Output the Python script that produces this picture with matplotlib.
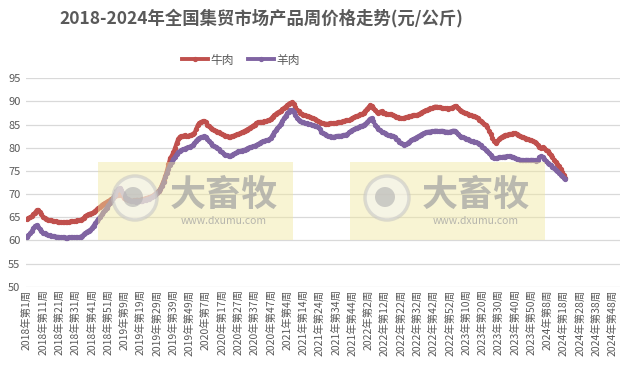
# -*- coding: utf-8 -*-
"""
2018-2024 weekly beef / mutton market prices (yuan/kg)
"""

import numpy as np
import matplotlib.pyplot as plt
from matplotlib.patches import Rectangle, Circle

plt.rcParams['font.family'] = ['Noto Sans CJK SC', 'DejaVu Sans']

### categories: weeks per year
years      = [2018, 2019, 2020, 2021, 2022, 2023, 2024]
year_weeks = [52, 52, 53, 52, 52, 52, 52]

### data (yuan/kg), one list per year
beef_2018 = [64.6, 64.8, 65.0, 65.2, 65.6, 66.0, 66.5, 66.6, 66.2, 65.6, 65.1, 64.8, 64.6, 64.5, 64.4, 64.3,
             64.2, 64.1, 64.1, 64.0, 64.0, 64.0, 63.9, 63.9, 64.0, 64.0, 64.0, 64.1, 64.1, 64.2, 64.2, 64.3,
             64.3, 64.4, 64.6, 64.9, 65.2, 65.5, 65.7, 65.8, 65.9, 66.1, 66.4, 66.7, 67.0, 67.3, 67.6, 67.8,
             68.1, 68.3, 68.5, 68.7]
beef_2019 = [69.0, 69.2, 69.5, 69.7, 69.9, 70.0, 69.8, 69.5, 69.2, 69.0, 68.8, 68.7, 68.6, 68.6, 68.7, 68.7,
             68.8, 68.7, 68.8, 68.9, 69.0, 69.1, 69.2, 69.3, 69.4, 69.6, 69.8, 70.1, 70.4, 70.7, 71.2, 72.0,
             72.9, 73.8, 75.0, 76.4, 77.7, 78.3, 79.0, 79.9, 81.0, 81.9, 82.4, 82.5, 82.6, 82.7, 82.6, 82.5,
             82.7, 82.8, 83.0, 83.2]
beef_2020 = [84.0, 84.9, 85.3, 85.6, 85.7, 85.8, 85.6, 85.0, 84.6, 84.2, 84.0, 83.8, 83.6, 83.5, 83.3, 83.1,
             82.9, 82.7, 82.6, 82.5, 82.4, 82.4, 82.5, 82.6, 82.7, 82.9, 83.0, 83.1, 83.3, 83.5, 83.7, 83.9,
             84.1, 84.3, 84.5, 84.8, 85.0, 85.3, 85.5, 85.6, 85.6, 85.6, 85.7, 85.8, 85.9, 86.0, 86.3, 86.7,
             87.0, 87.3, 87.6, 87.8, 88.0]
beef_2021 = [88.3, 88.6, 88.9, 89.2, 89.5, 89.7, 89.8, 89.4, 88.8, 88.2, 87.9, 87.6, 87.3, 87.1, 87.0, 86.9,
             86.8, 86.7, 86.5, 86.4, 86.2, 86.0, 85.8, 85.6, 85.4, 85.3, 85.2, 85.2, 85.2, 85.3, 85.3, 85.3,
             85.3, 85.4, 85.5, 85.5, 85.6, 85.7, 85.8, 85.9, 86.0, 86.0, 86.2, 86.4, 86.6, 86.8, 86.9, 87.0,
             87.2, 87.3, 87.6, 88.0]
beef_2022 = [88.4, 88.8, 89.2, 89.0, 88.6, 88.2, 87.8, 87.6, 87.8, 87.9, 87.6, 87.4, 87.3, 87.2, 87.3, 87.2,
             87.0, 86.8, 86.7, 86.6, 86.5, 86.4, 86.4, 86.5, 86.6, 86.7, 86.8, 86.9, 87.0, 87.1, 87.1, 87.1,
             87.3, 87.5, 87.7, 87.9, 88.1, 88.2, 88.4, 88.5, 88.6, 88.8, 88.9, 88.9, 88.8, 88.7, 88.6, 88.6,
             88.5, 88.5, 88.4, 88.5]
beef_2023 = [88.6, 88.8, 89.0, 89.0, 88.6, 88.2, 88.0, 87.8, 87.6, 87.4, 87.3, 87.1, 87.0, 86.9, 86.8, 86.7,
             86.4, 86.1, 85.8, 85.5, 85.2, 84.9, 84.4, 83.7, 83.0, 82.2, 81.5, 81.0, 81.4, 81.8, 82.1, 82.4,
             82.6, 82.8, 82.8, 82.9, 83.0, 83.0, 83.1, 83.1, 83.0, 82.8, 82.6, 82.4, 82.3, 82.1, 82.0, 81.9,
             81.7, 81.6, 81.4, 81.2]
beef_2024 = [81.0, 80.6, 80.2, 80.0, 80.1, 79.9, 79.6, 79.3, 78.9, 78.4, 77.9, 77.4, 77.0, 76.5, 76.0, 75.4,
             74.8, 74.2, 73.5]

mutton_2018 = [60.7, 61.1, 61.5, 62.0, 62.6, 63.1, 63.3, 62.9, 62.4, 62.0, 61.7, 61.5, 61.3, 61.2, 61.1, 61.0,
               60.9, 60.9, 60.8, 60.8, 60.7, 60.7, 60.7, 60.7, 60.6, 60.6, 60.7, 60.7, 60.7, 60.7, 60.7, 60.7,
               60.7, 60.8, 61.0, 61.3, 61.6, 61.9, 62.1, 62.3, 62.7, 63.2, 63.7, 64.2, 64.7, 65.1, 65.6, 66.1,
               66.6, 67.1, 67.6, 68.1]
mutton_2019 = [68.6, 69.2, 69.9, 70.6, 71.1, 71.3, 70.9, 70.3, 69.7, 69.2, 68.9, 68.7, 68.5, 68.4, 68.4, 68.3,
               68.4, 68.4, 68.4, 68.5, 68.7, 68.8, 68.9, 69.0, 69.1, 69.3, 69.6, 69.9, 70.2, 70.6, 71.0, 71.8,
               72.7, 73.6, 74.6, 75.5, 76.3, 76.9, 77.5, 78.1, 78.6, 79.0, 79.3, 79.5, 79.7, 79.8, 80.0, 80.1,
               80.2, 80.4, 80.6, 81.0]
mutton_2020 = [81.5, 81.9, 82.1, 82.3, 82.4, 82.5, 82.4, 81.9, 81.4, 81.0, 80.6, 80.3, 80.1, 79.9, 79.7, 79.3,
               79.0, 78.7, 78.5, 78.4, 78.3, 78.3, 78.4, 78.6, 78.8, 79.0, 79.2, 79.3, 79.4, 79.5, 79.6, 79.8,
               80.0, 80.1, 80.2, 80.3, 80.4, 80.6, 80.8, 81.0, 81.2, 81.4, 81.5, 81.6, 81.7, 81.8, 82.2, 82.8,
               83.3, 83.8, 84.2, 84.6, 85.2]
mutton_2021 = [85.8, 86.4, 86.9, 87.4, 87.8, 88.1, 88.2, 87.7, 87.0, 86.4, 86.0, 85.8, 85.6, 85.5, 85.4, 85.3,
               85.2, 85.1, 85.0, 84.9, 84.8, 84.7, 84.4, 84.0, 83.5, 83.1, 82.9, 82.7, 82.6, 82.5, 82.4, 82.4,
               82.4, 82.5, 82.6, 82.6, 82.6, 82.7, 82.8, 82.8, 83.0, 83.3, 83.6, 83.8, 84.0, 84.2, 84.3, 84.5,
               84.6, 84.8, 84.9, 85.2]
mutton_2022 = [85.5, 85.9, 86.3, 86.4, 85.7, 85.0, 84.5, 84.1, 83.8, 83.5, 83.3, 83.1, 82.9, 82.8, 82.7, 82.6,
               82.6, 82.3, 82.0, 81.6, 81.3, 81.0, 80.8, 80.7, 80.8, 81.0, 81.3, 81.6, 81.8, 82.0, 82.2, 82.4,
               82.6, 82.8, 83.0, 83.2, 83.3, 83.4, 83.5, 83.5, 83.6, 83.6, 83.7, 83.7, 83.6, 83.6, 83.7, 83.6,
               83.5, 83.5, 83.4, 83.5]
mutton_2023 = [83.6, 83.7, 83.7, 83.4, 83.0, 82.6, 82.4, 82.3, 82.1, 81.9, 81.8, 81.6, 81.5, 81.4, 81.3, 81.2,
               81.0, 80.8, 80.5, 80.2, 79.9, 79.6, 79.2, 78.8, 78.4, 78.0, 77.8, 77.7, 77.8, 77.9, 78.0, 78.0,
               78.1, 78.1, 78.2, 78.2, 78.2, 78.1, 78.0, 77.8, 77.6, 77.5, 77.4, 77.4, 77.3, 77.3, 77.4, 77.4,
               77.3, 77.4, 77.4, 77.3]
mutton_2024 = [77.2, 77.4, 78.0, 78.2, 78.0, 77.6, 77.2, 76.8, 76.5, 76.2, 75.9, 75.6, 75.3, 75.0, 74.6, 74.2,
               73.8, 73.5, 73.3]

beef   = beef_2018 + beef_2019 + beef_2020 + beef_2021 + beef_2022 + beef_2023 + beef_2024
mutton = mutton_2018 + mutton_2019 + mutton_2020 + mutton_2021 + mutton_2022 + mutton_2023 + mutton_2024

### category labels
cats = []
for y, nw in zip(years, year_weeks):
    for w in range(1, nw + 1):
        cats.append('%d年第%d周' % (y, w))
x_all = np.arange(len(cats))
x_dat = np.arange(len(beef))

### plot
c_beef   = '#C0504D'
c_mutton = '#8064A2'
c_text   = '#595959'

W, H = 631, 373
fig = plt.figure(figsize=(W/100, H/100), dpi=100)
ax  = fig.add_axes([26/W, 1 - 286.7/H, (620 - 26)/W, (286.7 - 78.3)/H])

ax.plot(x_dat, beef, color=c_beef, linewidth=2.8, marker='o', markersize=2.8, label='牛肉', zorder=3)
ax.plot(x_dat, mutton, color=c_mutton, linewidth=2.8, marker='o', markersize=2.8, label='羊肉', zorder=4)

ax.set_xlim(-0.5, len(cats) - 0.5)
ax.set_ylim(50, 95)
ax.set_yticks(np.arange(50, 96, 5))
ax.set_xticks(x_all[::10])
ax.set_xticklabels(cats[::10], rotation=90, fontsize=7.5, color=c_text)
ax.tick_params(axis='y', labelsize=8, colors=c_text, length=0, pad=4)
ax.tick_params(axis='x', length=0, pad=2)
ax.grid(axis='y', color='#D9D9D9', linewidth=0.9)
ax.set_axisbelow(True)
for s in ax.spines.values():
    s.set_visible(False)

fig.text(261/W, 1 - 18/H, '2018-2024年全国集贸市场产品周价格走势(元/公斤)', ha='center', va='center',
         fontsize=12.5, fontweight='bold', color=c_text)
fig.legend(loc='center', bbox_to_anchor=(241/W, 1 - 60/H), ncol=2, frameon=False, fontsize=8.5,
           handlelength=2.2, columnspacing=1.2, handletextpad=0.2, labelcolor=c_text)

### watermarks (x0, x1, circle centre x, text centre x) in pixels
wm_boxes = [(98, 293, 135, 224), (350, 545, 387, 476)]
for x0, x1, cx, tx in wm_boxes:
    fig.add_artist(Rectangle((x0/W, 1 - 240/H), (x1 - x0)/W, 78/H, transform=fig.transFigure,
                             facecolor='#F1E79E', edgecolor='none', alpha=0.45, zorder=10))
    fig.add_artist(Circle((cx, H - 198), 22, transform=None, facecolor='#F4F4F4', edgecolor='#C4C4C4',
                          linewidth=2.5, alpha=0.55, zorder=11))
    fig.add_artist(Circle((cx - 2, H - 197), 10, transform=None, facecolor='#B0B0B0', edgecolor='none',
                          alpha=0.6, zorder=12))
    fig.text(tx/W, 1 - 195/H, '大畜牧', ha='center', va='center', fontsize=26, fontweight='bold',
             color='#A0A0A0', alpha=0.7, zorder=12)
    fig.text(tx/W, 1 - 221/H, 'www.dxumu.com', ha='center', va='center', fontsize=7.5,
             color='#A0A0A0', alpha=0.75, zorder=12)

fig.savefig('out.png', dpi=100)
